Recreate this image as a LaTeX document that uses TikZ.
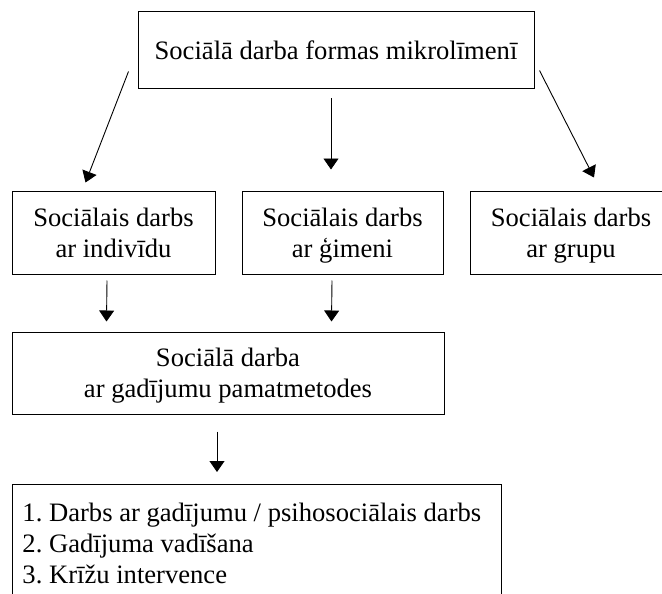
\documentclass[tikz,border=0pt]{standalone}
\usepackage{fontspec}
\setmainfont{Liberation Serif}
\usetikzlibrary{arrows.meta,calc}

\begin{document}
\begin{tikzpicture}[x=1pt,y=-1pt,
  rahmen/.style={draw,line width=1pt,font=\fontsize{26.6}{30.7}\selectfont\frenchspacing},
  box/.style={rahmen,inner sep=0pt,align=center,text depth=0pt},
  liste/.style={rahmen,anchor=north west,align=left,inner xsep=10pt,inner ysep=18.8pt},
  pfeil/.style={line width=0.9pt,-{Triangle[width=15pt,length=11pt]}}]
\useasboundingbox (0,0) rectangle (662,594);
\node[box,minimum width=396pt,minimum height=77pt] (form) at (336,50.5) {Sociālā darba formas mikrolīmenī};
\node[box,minimum width=203pt,minimum height=83pt] (indiv) at (113.5,232.5) {Sociālais darbs\\ar indivīdu};
\node[box,minimum width=201pt,minimum height=83pt] (famil) at (342.5,232.5) {Sociālais darbs\\ar ģimeni};
\node[box,minimum width=202pt,minimum height=83pt] (grupa) at (571,232.5) {Sociālais darbs\\ar grupu};
\node[box,minimum width=432pt,minimum height=82pt] (metod) at (228,373) {Sociālā darba\\ar gadījumu pamatmetodes};
\node[liste] (punkti) at (12,484)
  {1. Darbs ar gadījumu / psihosociālais darbs\hspace*{10pt}\\2. Gadījuma vadīšana\\3. Krīžu intervence};

\draw[pfeil] ($(form.south west)+(-9,-18)$) -- ($(indiv.north west)+(74,-8)$);
\draw[pfeil] ($(form.south)+(-5,9)$) -- ($(famil.north)+(-11.5,-21)$);
\draw[pfeil] ($(form.south east)+(5,-19)$) -- ($(grupa.north)+(23,-13)$);
\draw[pfeil] ($(indiv.south)+(-6.5,6)$) -- ($(metod.north west)+(95,-10)$);
\draw[pfeil] ($(famil.south)+(-10.5,6)$) -- ($(metod.north west)+(320,-10)$);
\draw[pfeil] ($(metod.south)+(-11,17)$) -- ($(punkti.north west)+(205,-12)$);
\end{tikzpicture}
\end{document}
